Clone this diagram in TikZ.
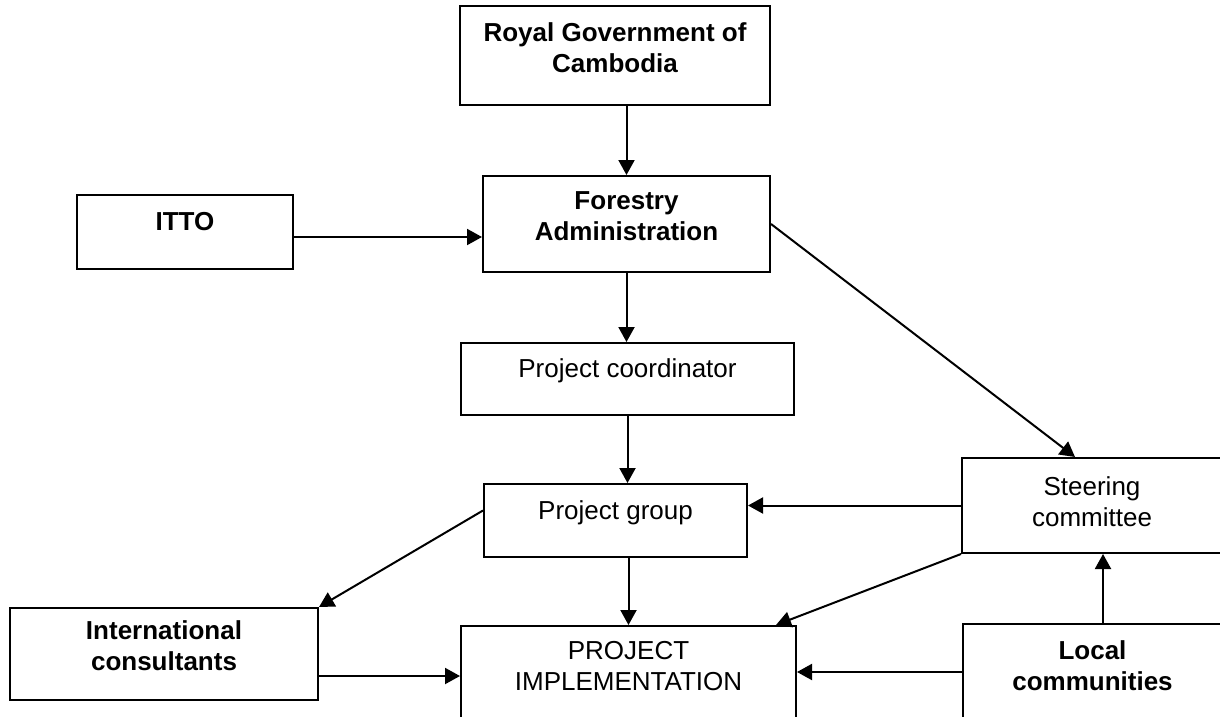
\documentclass[tikz,border=0pt]{standalone}
\usepackage{fontspec}
\setmainfont{Liberation Sans}
\usepackage{tikz}
\usetikzlibrary{calc}
\usetikzlibrary{arrows.meta}

\tikzset{
    box/.style={draw, line width=1pt, inner sep=0pt},
    txt/.style={align=center, yshift=4pt, inner sep=0pt},
    bold/.style={font=\fontsize{13pt}{15.5pt}\selectfont\bfseries},
    plain/.style={font=\fontsize{13pt}{15.5pt}\selectfont},
    arr/.style={line width=1pt, -{Triangle[length=7.5pt, width=8pt]}},
}

\begin{document}
\begin{tikzpicture}[x=0.5pt, y=-0.5pt]

    \useasboundingbox (0,0) rectangle (1220,717);
    \clip (0,0) rectangle (1220,717);

    \node[box, minimum width=155pt, minimum height=49.5pt, label={[txt, bold]center:{Royal Government of\\Cambodia}}] (royal) at (615,55.5) {};

    \node[box, minimum width=143.5pt, minimum height=48pt, label={[txt, bold]center:{Forestry\\Administration}}] (fa) at (626.5,224) {};

    \node[box, minimum width=108pt, minimum height=37pt, label={[txt, bold, yshift=1pt]center:ITTO}] (itto) at (185,232) {};

    \node[box, minimum width=166.5pt, minimum height=36pt, label={[txt, plain]center:Project coordinator}] (pc) at (627.5,379) {};

    \node[box, minimum width=131.5pt, minimum height=36.5pt, label={[txt, plain]center:Project group}] (pg) at (615.5,520.5) {};

    \node[box, minimum width=130pt, minimum height=47.5pt, label={[txt, plain, yshift=-2pt]center:{Steering\\committee}}] (sc) at (1092,505.5) {};

    \node[box, minimum width=154pt, minimum height=46pt, label={[txt, bold]center:{International\\consultants}}] (ic) at (164,654) {};

    \node[box, minimum width=167.5pt, minimum height=48pt, label={[txt, plain]center:{PROJECT\\IMPLEMENTATION}}] (pi) at (628.5,674) {};

    \node[box, minimum width=129.5pt, minimum height=48pt, label={[txt, bold, yshift=-1pt]center:{Local\\communities}}] (lc) at (1092.5,672) {};

    \draw[arr] (royal.south -| fa.north) -- (fa.north);

    \draw[arr] ([yshift=-2.5pt]itto.east) -- ([yshift=-2.5pt]itto.east -| fa.west);

    \draw[arr] (fa.south) -- (fa.south |- pc.north);

    \draw[arr] (fa.east) -- ([xshift=-8.5pt]sc.north);

    \draw[arr] (pc.south) -- (pc.south |- pg.north);

    \draw[arr] (sc.west) -- (sc.west -| pg.east);

    \draw[arr] ([yshift=5pt]pg.west) -- (ic.north east);

    \draw[arr] (pg.south -| pi.north) -- (pi.north);

    \draw[arr] (sc.south west) -- ([xshift=-10.5pt]pi.north east);

    \draw[arr] ([yshift=-11pt]ic.east) -- ([yshift=-11pt]ic.east -| pi.west);

    \draw[arr] (lc.west) -- (lc.west -| pi.east);

    \draw[arr] ([xshift=5.25pt]lc.north) -- ([xshift=5.25pt]lc.north |- sc.south);

\end{tikzpicture}
\end{document}
